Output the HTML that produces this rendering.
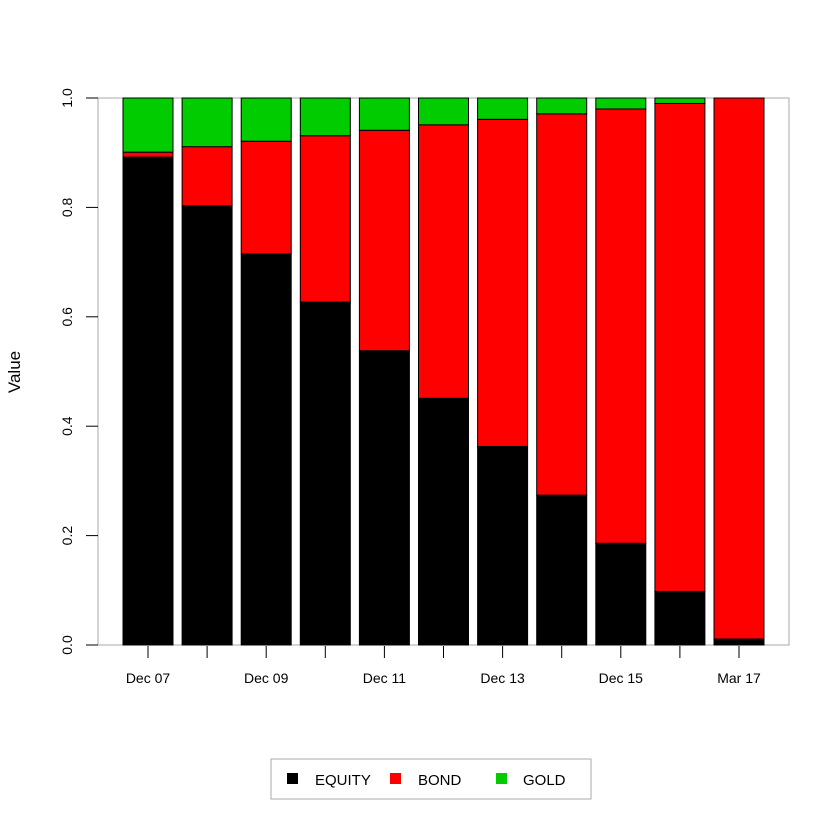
<!DOCTYPE html>
<html><head><meta charset="utf-8"><style>body{margin:0;background:#fff}svg{display:block;font-family:"Liberation Sans",sans-serif}</style></head>
<body>
<svg id="chart" width="840" height="840">
<rect x="98" y="98" width="691" height="547" fill="none" stroke="#aaa"/>
<g id="bars"></g><g id="axes"></g>
<text x="20" y="372" font-size="17" transform="rotate(-90 20 372)" text-anchor="middle">Value</text>
<g>
<rect x="271" y="759" width="320" height="40" fill="#fff" stroke="#aaa"/>
<g><rect x="287" y="773" width="11" height="11" fill="#000"/><text x="315" y="785" font-size="15">EQUITY</text></g>
<g><rect x="390" y="773" width="11" height="11" fill="#f00"/><text x="418" y="785" font-size="15">BOND</text></g>
<g><rect x="496" y="773" width="11" height="11" fill="#0c0"/><text x="523" y="785" font-size="15">GOLD</text></g>
</g>
</svg>
<script>
const categories=["Dec 07","Dec 08","Dec 09","Dec 10","Dec 11","Dec 12","Dec 13","Dec 14","Dec 15","Dec 16","Mar 17"];
const tickLabels=["Dec 07","","Dec 09","","Dec 11","","Dec 13","","Dec 15","","Mar 17"];
const equity=[0.892,0.803,0.715,0.627,0.538,0.451,0.363,0.274,0.186,0.098,0.011];
const bond=[0.009,0.108,0.206,0.304,0.403,0.5,0.598,0.697,0.794,0.892,0.989];
const gold=[0.099,0.089,0.079,0.069,0.059,0.049,0.039,0.029,0.02,0.01,0];
const yTicks=["0.0","0.2","0.4","0.6","0.8","1.0"];
const NS="http://www.w3.org/2000/svg";
const y=v=>645-v*547;
const xc=i=>148+i*59.1;
const bw=50;
const bars=document.getElementById('bars'),axes=document.getElementById('axes');
function mk(tag,attrs,parent){const e=document.createElementNS(NS,tag);for(const k in attrs)e.setAttribute(k,attrs[k]);parent.appendChild(e);return e;}
const series=[[equity,"#000","equity"],[bond,"#f00","bond"],[gold,"#0c0","gold"]];
categories.forEach((c,i)=>{let base=0;
series.forEach(([arr,col,nm])=>{const v=arr[i];
const r=mk('rect',{x:xc(i)-bw/2,y:y(base+v),width:bw,height:Math.max(0,y(base)-y(base+v)),fill:col,stroke:"#000","stroke-width":1},bars);


base+=v;});
const t=mk('line',{x1:xc(i),x2:xc(i),y1:646,y2:658,stroke:"#000"},axes);


if(tickLabels[i]){const l=mk('text',{x:xc(i),y:683,"font-size":14,"text-anchor":"middle"},axes);l.textContent=tickLabels[i];

}
});
yTicks.forEach(s=>{const v=parseFloat(s);const yy=y(v);
const t=mk('line',{x1:86,x2:98,y1:yy,y2:yy,stroke:"#000"},axes);


const l=mk('text',{x:72,y:yy,"font-size":14,"text-anchor":"middle",transform:`rotate(-90 72 ${yy})`},axes);l.textContent=s;

});
</script>
</body></html>
